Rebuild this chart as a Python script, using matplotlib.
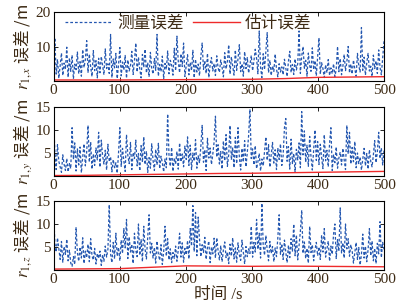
import numpy as np
import matplotlib
matplotlib.use("Agg")
import matplotlib.pyplot as plt

plt.rcParams['font.family'] = ['Liberation Serif', 'Noto Sans CJK SC']
plt.rcParams['mathtext.fontset'] = 'stix'

# measured error, x component (sampled every ~2 s)
meas_x = [3.1,12.5,2.0,6.3,0.8,4.5,8.1,1.6,5.2,3.4,9.8,1.1,6.7,2.8,7.5,0.6,4.9,3.3,8.4,2.1,5.6,1.4,9.1,3.9,6.2,
          11.7,2.5,7.8,4.1,1.3,8.8,3.0,5.9,0.9,6.6,2.4,7.1,4.4,1.8,9.3,3.6,5.0,2.2,13.5,1.0,6.4,3.8,8.0,0.7,4.7,
          9.7,1.5,5.5,3.2,7.4,0.8,6.1,2.9,4.3,8.6,1.9,5.8,11.0,2.6,6.9,3.5,0.9,7.7,4.0,9.2,2.3,5.3,1.2,8.3,3.7,
          2.0,6.5,3.1,13.5,1.4,4.8,2.7,7.2,0.6,5.1,3.3,8.7,2.1,6.0,4.6,1.7,9.5,3.0,13.0,5.7,2.4,7.9,4.2,11.0,1.3,
          4.4,7.6,1.8,5.4,3.0,8.9,0.9,6.3,2.6,4.9,1.5,7.0,11.0,3.4,5.9,2.2,8.0,1.0,4.7,6.8,2.9,5.1,1.6,7.3,3.8,
          2.5,6.1,4.0,1.2,8.2,3.5,5.6,10.5,2.0,7.0,4.3,1.7,9.0,3.1,6.4,10.5,2.7,5.0,1.4,8.5,3.6,6.8,2.3,4.6,7.4,
          3.0,5.8,9.2,6.5,2.1,14.5,4.0,1.0,7.9,3.3,8.8,14.0,2.4,6.0,1.6,4.4,2.8,7.8,3.5,1.2,5.0,2.6,4.1,1.8,6.3,
          3.9,1.3,5.7,8.6,2.5,4.8,1.9,6.4,3.2,5.0,14.5,2.2,7.2,10.0,3.7,6.0,1.4,8.1,4.5,2.8,9.6,3.3,5.9,1.5,7.0,
          12.5,2.0,5.3,3.6,1.0,4.7,2.4,6.2,1.6,3.8,2.1,5.0,1.3,3.4,10.0,2.7,6.5,1.8,4.2,7.7,3.0,5.4,10.0,2.3,4.9,
          2.0,6.1,3.5,1.4,8.0,4.4,2.6,15.5,3.1,6.9,1.7,5.2,8.0,2.9,4.3,1.2,7.5,3.6,5.8,2.2,9.0,4.0,1.8,6.6,11.5]

meas_y = [13.0,5.5,1.4,6.8,3.2,2.0,0.8,4.6,2.5,1.2,3.8,0.9,2.7,1.6,10.5,3.6,7.2,1.1,5.9,2.4,6.3,0.7,4.1,7.0,2.2,
          5.2,11.0,3.0,7.4,1.5,4.8,2.3,6.1,3.5,9.5,1.9,7.8,4.4,2.6,5.6,1.3,6.9,3.1,4.2,0.9,3.6,1.8,2.9,0.6,5.0,
          10.5,2.1,6.0,3.3,1.0,9.0,4.5,2.7,7.3,1.4,5.1,3.8,7.8,2.2,4.9,1.1,6.6,3.0,8.5,2.5,5.4,0.8,4.0,1.7,7.0,
          3.4,1.2,5.8,2.4,7.1,1.6,4.3,2.9,0.9,3.7,1.8,13.5,4.6,2.1,6.2,1.0,3.9,2.6,5.3,1.5,7.2,3.1,4.8,2.0,6.5,
          3.6,8.5,2.3,6.7,1.4,5.0,3.2,7.9,1.7,4.4,2.8,6.4,11.0,3.0,5.7,1.2,8.2,3.9,6.1,2.5,4.7,7.4,13.0,4.1,6.8,
          2.6,5.3,1.5,7.6,3.3,9.0,2.1,4.6,11.0,3.5,6.2,1.8,8.4,2.7,10.5,4.2,1.3,6.0,3.0,7.7,2.0,5.1,8.8,14.5,3.8,
          5.9,2.4,6.6,1.6,3.1,4.9,1.1,3.7,2.2,5.4,8.5,3.4,6.8,1.9,4.6,7.3,2.8,5.7,1.4,6.1,3.6,7.0,2.3,4.4,10.5,
          12.5,3.2,6.4,1.5,8.0,2.7,4.9,0.9,5.8,3.5,7.2,1.8,14.0,4.6,9.8,3.0,6.7,2.1,8.6,4.2,1.3,5.5,10.0,3.4,7.5,
          2.5,6.9,4.0,1.6,9.0,3.3,5.6,2.0,7.1,10.5,1.2,4.7,2.9,6.3,1.7,3.9,5.2,2.4,6.0,3.5,1.4,11.0,4.8,9.5,2.6,
          6.2,3.1,7.5,1.8,5.0,2.7,4.1,1.3,3.6,6.0,2.2,4.9,1.5,5.7,3.2,2.0,4.6,7.7,2.9,5.3,9.5,3.8,6.1,2.4,5.5]

meas_z = [14.0,5.8,3.9,7.0,4.6,2.3,6.2,1.7,5.1,3.4,6.7,2.0,4.3,1.5,0.8,2.9,1.2,9.3,3.8,1.9,5.0,2.6,7.0,1.4,4.1,
          2.7,5.6,1.8,6.8,3.1,2.2,4.7,1.3,3.6,2.5,4.1,1.0,3.3,1.9,5.2,2.8,4.5,14.2,3.5,1.6,6.0,2.4,8.0,3.0,4.9,
          2.0,6.5,3.6,9.0,4.8,11.0,2.5,7.2,3.9,5.6,1.4,8.0,4.3,2.9,10.0,3.2,6.6,1.8,9.5,4.5,2.4,7.4,12.0,3.7,5.8,
          2.6,4.9,1.5,6.3,3.4,2.1,5.5,1.2,4.0,9.5,3.0,6.8,2.2,4.6,1.6,3.8,2.5,5.2,1.9,4.4,8.0,2.8,5.9,1.7,4.7,
          3.3,6.4,2.4,9.0,5.2,14.0,4.0,12.5,3.1,11.5,6.7,2.9,5.5,3.8,7.1,2.3,4.9,6.3,1.6,5.0,3.5,6.9,2.6,7.0,4.2,
          2.2,5.3,1.8,4.4,6.1,2.7,3.9,1.4,5.6,3.0,7.0,2.4,4.8,1.7,5.9,3.3,2.1,6.5,4.0,1.3,5.1,2.9,4.6,3.6,9.5,
          2.8,6.0,3.9,11.0,4.5,8.0,2.6,14.5,5.3,3.2,7.5,4.4,2.0,6.2,3.6,5.1,1.8,4.8,2.9,7.0,12.0,3.4,5.7,2.3,6.5,
          3.9,1.6,5.4,2.7,6.8,4.0,10.0,3.1,7.6,2.2,5.3,8.4,13.0,3.6,6.1,2.5,4.7,1.5,9.5,3.8,5.5,2.0,4.4,6.0,3.1,
          5.0,2.3,7.6,3.9,9.0,2.8,4.5,6.3,1.9,5.2,3.4,7.8,10.0,2.5,6.6,4.1,13.5,3.7,5.9,2.6,10.0,4.6,6.8,3.0,5.5,
          4.2,1.5,3.8,6.0,2.3,4.9,1.1,3.4,7.8,2.6,5.2,1.8,4.4,9.0,3.1,6.3,2.0,4.7,1.4,5.8,3.5,10.5,2.7,6.0,4.5]

# estimation error
est_t = [0, 50, 100, 150, 200, 250, 300, 350, 400, 450, 500]
est_x = [0.3, 0.3, 0.3, 0.35, 0.4, 0.45, 0.5, 0.7, 1.05, 1.15, 1.25]
est_y = [0.1, 0.15, 0.25, 0.35, 0.45, 0.55, 0.6, 0.7, 0.8, 0.9, 1.0]
est_z = [0.2, 0.25, 0.3, 0.6, 0.9, 0.85, 0.8, 0.85, 0.8, 0.75, 0.7]

ylabels = [r'$r_{1,x}$ 误差 /m', r'$r_{1,y}$ 误差 /m', r'$r_{1,z}$ 误差 /m']
ylims = [20, 15, 15]
yticks = [[0, 10, 20], [0, 5, 10, 15], [0, 5, 10, 15]]
xticks = [0, 100, 200, 300, 400, 500]
legend_labels = ['测量误差', '估计误差']
xlabel = '时间 /s'

txt = '#3d2a14'
blue = '#2457b0'
red = '#ee2a2a'

W, H = 408, 303
fig = plt.figure(figsize=(W/100, H/100), dpi=100)
boxes = [(12, 81), (107, 176), (201, 270)]
left, right = 53.5, 384
for i, (meas, est) in enumerate(zip([meas_x, meas_y, meas_z], [est_x, est_y, est_z])):
    top, bot = boxes[i]
    ax = fig.add_axes([left/W, 1 - bot/H, (right-left)/W, (bot-top)/H])
    t = np.linspace(0, 500, len(meas))
    l1, = ax.plot(t, meas, color=blue, lw=0.9, linestyle=(0, (2.2, 1.6)))
    l2, = ax.plot(est_t, est, color=red, lw=1.0)
    ax.set_xlim(0, 500)
    ax.set_ylim(0, ylims[i])
    ax.set_xticks(xticks)
    ax.set_yticks(yticks[i])
    ylab = [('' if v == 0 else str(v)) for v in yticks[i]]
    ax.set_yticklabels(ylab)
    ax.tick_params(direction='in', top=True, right=True, labelsize=11,
                   colors='black', labelcolor=txt, length=3, width=0.6, pad=2)
    for s in ax.spines.values():
        s.set_linewidth(0.8)
    ax.set_ylabel(ylabels[i], fontsize=12, color=txt, labelpad=1,
                  fontfamily='Noto Sans CJK SC')
    if i == 0:
        ax.legend([l1, l2], legend_labels, ncol=2, frameon=False,
                  loc='upper left', bbox_to_anchor=(0.0, 1.12),
                  borderaxespad=0.3,
                  fontsize=12, handlelength=2.8, columnspacing=0.6,
                  handletextpad=0.3, labelcolor=txt)
    if i == 2:
        ax.set_xlabel(xlabel, fontsize=12, color=txt, labelpad=1)

fig.savefig('out.png', dpi=100)
